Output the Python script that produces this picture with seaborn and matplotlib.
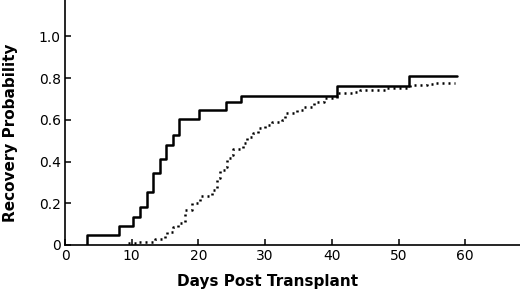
import numpy as np
import matplotlib
matplotlib.use("Agg")
import matplotlib.pyplot as plt
import seaborn as sb
import pandas as pd

# solid curve: step times (days) and recovery probability after each step
solid_days = [3.35, 3.35, 8.15, 10.25, 11.25, 12.25, 13.15, 14.25, 15.15, 16.15,
              17.15, 20.1, 24.2, 26.35, 40.7, 51.6, 58.7]
solid_prob = [0.0, 0.048, 0.091, 0.136, 0.18, 0.253, 0.347, 0.412, 0.48, 0.528,
              0.604, 0.647, 0.686, 0.715, 0.763, 0.812, 0.812]

# dotted curve
dot_days = [9.5, 10.7, 13.5, 15.0, 15.25, 16.25, 17.0, 18.0, 19.0, 20.25, 22.0,
            22.75, 23.25, 24.0, 24.25, 25.0, 25.25, 26.25, 26.75, 27.25, 28.25,
            29.0, 30.0, 31.0, 32.5, 33.0, 34.75, 35.75, 37.25, 38.75, 40.75,
            42.25, 43.25, 44.25, 48.0, 51.75, 54.25, 55.25, 58.5]
dot_prob = [0.008, 0.016, 0.027, 0.043, 0.064, 0.085, 0.107, 0.168, 0.2, 0.235,
            0.264, 0.32, 0.36, 0.376, 0.416, 0.432, 0.459, 0.464, 0.488, 0.52,
            0.536, 0.56, 0.576, 0.592, 0.6, 0.632, 0.648, 0.664, 0.688, 0.704,
            0.728, 0.731, 0.736, 0.744, 0.752, 0.768, 0.771, 0.776, 0.776]

x_ticks = [0, 10, 20, 30, 40, 50, 60]
y_ticks = [0, 0.2, 0.4, 0.6, 0.8, 1.0]
y_labels = ["0", "0.2", "0.4", "0.6", "0.8", "1.0"]

sb.set_style("ticks")
plt.rcParams["font.family"] = ["DejaVu Sans"]
plt.rcParams["text.color"] = "black"
plt.rcParams["axes.labelcolor"] = "black"

fig = plt.figure(figsize=(5.2, 2.94), dpi=100)
ax = fig.add_axes([0.125, 0.1667, 0.875, 0.8333])

solid = pd.DataFrame({"day": solid_days, "p": solid_prob})
dotted = pd.DataFrame({"day": dot_days, "p": dot_prob})

sb.lineplot(data=solid, x="day", y="p", ax=ax, estimator=None, sort=False,
            drawstyle="steps-post", color="black", linewidth=1.8)
sb.lineplot(data=dotted, x="day", y="p", ax=ax, estimator=None, sort=False,
            drawstyle="steps-post", color="black", linewidth=1.8,
            linestyle=(0, (0.8, 1.6)))

ax.set_xlim(0, 68.2)
ax.set_ylim(0, 1.175)
ax.set_xticks(x_ticks)
ax.set_yticks(y_ticks)
ax.set_yticklabels(y_labels)
ax.tick_params(direction="in", length=4, width=1.1, labelsize=10, colors="black", pad=3)
for s in ["top", "right"]:
    ax.spines[s].set_visible(False)
for s in ["left", "bottom"]:
    ax.spines[s].set_linewidth(1.2)
    ax.spines[s].set_color("black")

ax.set_xlabel("Days Post Transplant", fontsize=11, fontweight="semibold", color="black")
ax.set_ylabel("Recovery Probability", fontsize=11, fontweight="semibold", color="black")
ax.xaxis.set_label_coords((268 - 65) / 455, -0.118)
ax.yaxis.set_label_coords(-0.104, 0.457)

fig.savefig("out.png", dpi=100)
